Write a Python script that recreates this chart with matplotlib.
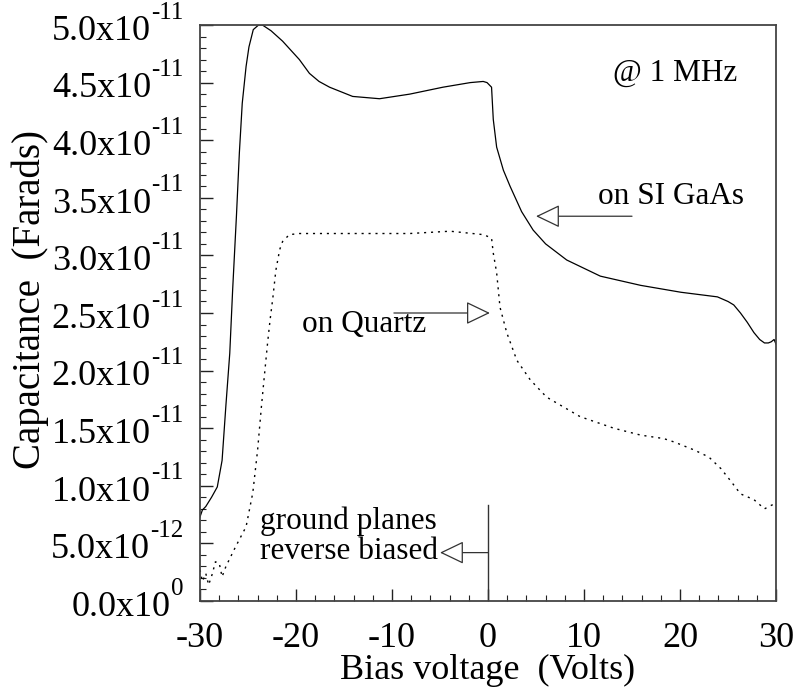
import matplotlib
matplotlib.use("Agg")
import matplotlib.pyplot as plt
from matplotlib.ticker import FixedLocator, MultipleLocator, NullFormatter
import numpy as np

plt.rcParams['font.family'] = ['Liberation Serif', 'DejaVu Serif']

# ---- data (capacitance in units of 1e-11 F) ----
gaas_v = [-30.0, -29.75, -29.4, -28.8, -28.2, -27.7, -27.3, -26.9, -26.6, -26.2,
          -25.9, -25.6, -25.2, -24.9, -24.45, -23.9, -23.5, -22.6, -21.4, -19.65,
          -18.6, -17.6, -16.5, -14.1, -11.3, -8.15, -4.7, -1.85, -0.5, -0.1,
          0.37, 0.55, 0.9, 1.6, 2.3, 3.5, 4.7, 6.0, 8.2, 11.7,
          15.9, 20.1, 23.9, 25.0, 25.6, 26.3, 27.0, 27.7, 28.3, 28.8,
          29.2, 29.5, 29.8, 30.0]
gaas_c = [0.73, 0.79, 0.82, 0.90, 0.99, 1.22, 1.70, 2.15, 2.70, 3.35,
          3.89, 4.32, 4.64, 4.81, 4.96, 5.00, 5.00, 4.95, 4.86, 4.70,
          4.58, 4.51, 4.46, 4.38, 4.36, 4.40, 4.46, 4.50, 4.51, 4.50,
          4.46, 4.18, 3.94, 3.74, 3.60, 3.38, 3.22, 3.10, 2.96, 2.82,
          2.74, 2.68, 2.64, 2.60, 2.57, 2.50, 2.42, 2.33, 2.27, 2.24,
          2.24, 2.25, 2.27, 2.23]

quartz_v = [-30.0, -29.75, -29.4, -29.1, -28.7, -28.4, -28.0, -27.7, -27.3, -26.3,
            -25.2, -24.5, -24.0, -23.6, -23.3, -22.96, -22.7, -22.4, -22.1, -21.7,
            -21.4, -20.7, -19.65, -18.6, -8.15, -3.95, -0.45, 0.37, 0.55, 0.9,
            1.25, 1.95, 3.0, 4.4, 6.1, 9.6, 13.1, 15.9, 18.3, 19.4,
            21.5, 23.0, 24.25, 25.3, 26.3, 27.7, 28.8, 29.5, 30.0]
quartz_c = [0.27, 0.17, 0.24, 0.14, 0.24, 0.34, 0.33, 0.21, 0.30, 0.47,
            0.645, 0.94, 1.31, 1.69, 1.95, 2.24, 2.44, 2.64, 2.87, 3.05,
            3.12, 3.18, 3.19, 3.19, 3.19, 3.21, 3.18, 3.15, 3.02, 2.85,
            2.55, 2.33, 2.09, 1.92, 1.77, 1.60, 1.50, 1.44, 1.41, 1.38,
            1.31, 1.25, 1.15, 1.04, 0.93, 0.88, 0.80, 0.83, 0.85]

x_ticks = [-30, -20, -10, 0, 10, 20, 30]
x_tick_labels = ['-30', '-20', '-10', '0', '10', '20', '30']
y_ticks = [0.0, 0.5, 1.0, 1.5, 2.0, 2.5, 3.0, 3.5, 4.0, 4.5, 5.0]
y_tick_mantissas = ['0.0', '5.0', '1.0', '1.5', '2.0', '2.5', '3.0', '3.5', '4.0', '4.5', '5.0']
y_tick_exponents = ['0', '-12', '-11', '-11', '-11', '-11', '-11', '-11', '-11', '-11', '-11']

scale = 1e-11
gaas_c = np.array(gaas_c) * scale
quartz_c = np.array(quartz_c) * scale

fig = plt.figure(figsize=(7.95, 6.89), dpi=100)
ax = fig.add_axes([200/795, 88/689, 576/795, 576/689])

ax.plot(gaas_v, gaas_c, color='black', lw=0.9)
ax.plot(quartz_v, quartz_c, color='black', lw=1.0, linestyle=(0, (1.5, 3.5)))

ax.set_xlim(-30, 30)
ax.set_ylim(0, 5e-11)
ax.xaxis.set_major_locator(FixedLocator(x_ticks))
ax.set_xticklabels(x_tick_labels)
ax.xaxis.set_minor_locator(MultipleLocator(2))
ax.yaxis.set_major_locator(FixedLocator(np.array(y_ticks) * scale))
ax.yaxis.set_major_formatter(NullFormatter())
ax.yaxis.set_minor_locator(MultipleLocator(1e-12))

ax.tick_params(which='both', direction='in', top=False, right=False, color='#222')
ax.tick_params(axis='x', labelsize=26, pad=15)
ax.tick_params(which='major', length=9, width=1.0)
ax.tick_params(which='minor', length=4, width=0.8)
for s in ax.spines.values():
    s.set_linewidth(1.3)
    s.set_color('#444')

# y tick labels: mantissa "x10" with a raised exponent
for yv, m, e in zip(y_ticks, y_tick_mantissas, y_tick_exponents):
    exp_t = ax.annotate(e, xy=(0, yv * scale), xycoords=('axes fraction', 'data'),
                        xytext=(-12, 1), textcoords='offset points',
                        ha='right', va='bottom', fontsize=18, annotation_clip=False)
    ax.annotate(m + 'x10', xy=(0, yv * scale), xycoords=(exp_t, 'data'),
                xytext=(0, -4.5), textcoords='offset points',
                ha='right', va='center', fontsize=26, annotation_clip=False)

ax.set_xlabel('Bias voltage  (Volts)', fontsize=26)
ax.set_ylabel('Capacitance  (Farads)', fontsize=28)
ax.xaxis.set_label_coords(0.5, -0.092)
ax.yaxis.set_label_coords(-0.263, 0.524)

# annotations
fs_ann = 22.5
ax.text(13.0, 4.58e-11, '@ 1 MHz', fontsize=fs_ann, va='center', ha='left')
ax.text(11.5, 3.51e-11, 'on SI GaAs', fontsize=fs_ann, va='center', ha='left')
ax.text(-19.4, 2.40e-11, 'on Quartz', fontsize=fs_ann, va='center', ha='left')
ax.text(-23.75, 0.69e-11, 'ground planes', fontsize=fs_ann, va='center', ha='left')
ax.text(-23.75, 0.43e-11, 'reverse biased', fontsize=fs_ann, va='center', ha='left')

arrow_kw = dict(arrowstyle='-|>,head_length=1.0,head_width=0.48', fc='white',
                ec='#333', lw=0.9, shrinkA=0, shrinkB=0, mutation_scale=15)
ax.annotate('', xy=(5.0, 3.34e-11), xytext=(15.0, 3.34e-11), arrowprops=arrow_kw)
ax.annotate('', xy=(0.2, 2.50e-11), xytext=(-9.8, 2.50e-11), arrowprops=arrow_kw)
ax.annotate('', xy=(-5.0, 0.42e-11), xytext=(0.0, 0.42e-11), arrowprops=arrow_kw)
ax.plot([0, 0], [0, 0.83e-11], color='#333', lw=1.0)

fig.savefig('out.png', dpi=100)
